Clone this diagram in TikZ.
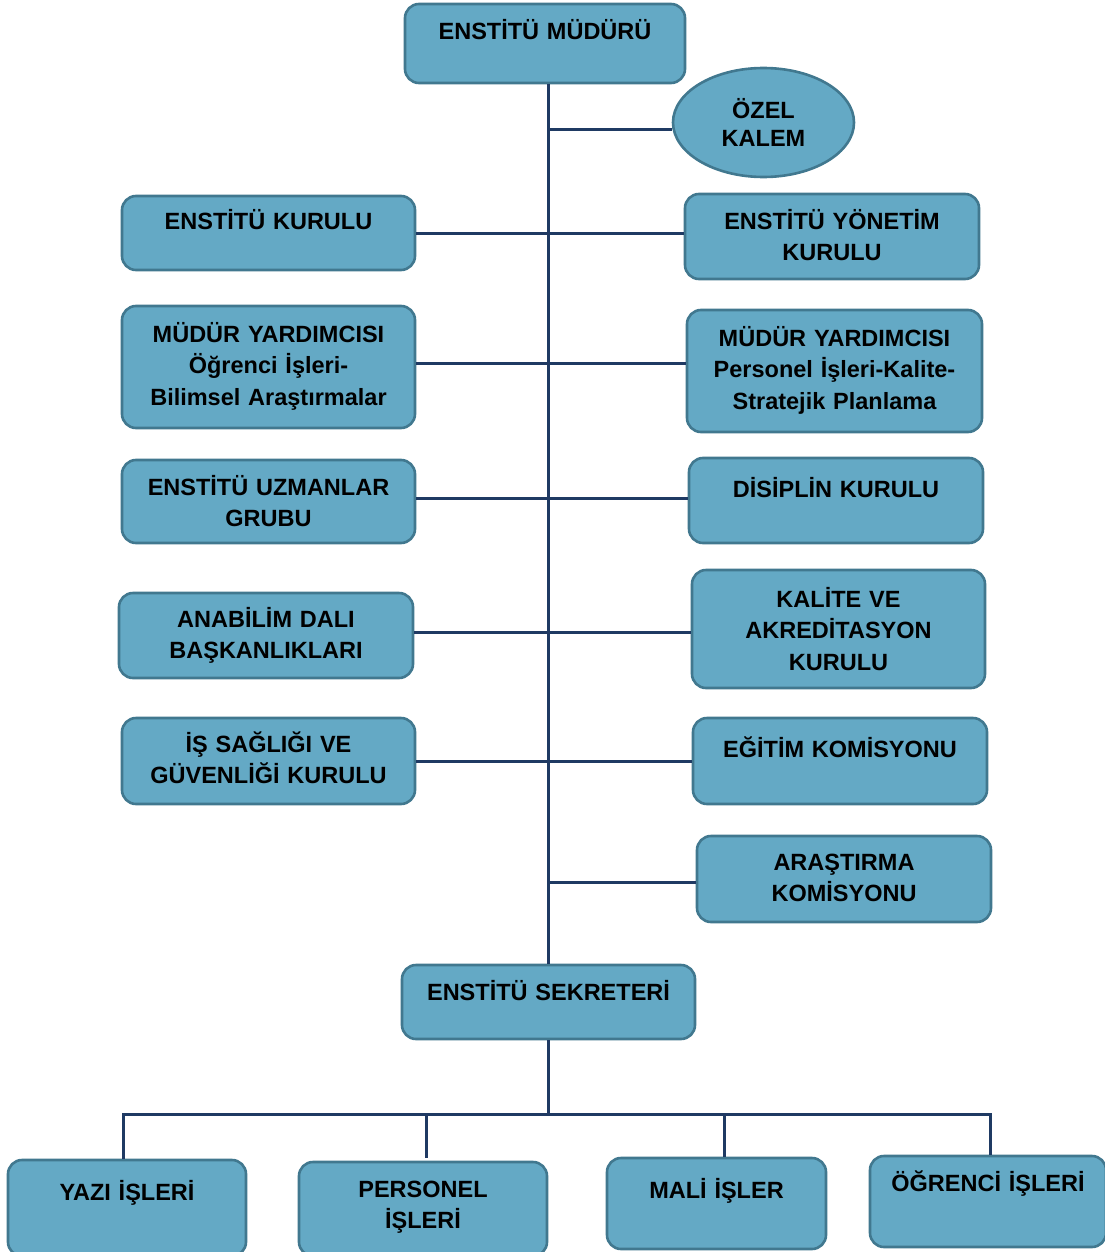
\documentclass[tikz,border=0pt]{standalone}
\usepackage{fontspec}
\setmainfont{Liberation Sans}
\usepackage{tikz}
\usetikzlibrary{positioning,shapes.geometric,calc}
\definecolor{boxfill}{HTML}{64A9C5}
\definecolor{boxline}{HTML}{41788F}
\definecolor{linkcol}{HTML}{1F3A63}
\tikzset{
  unit/.style={draw=boxline,line width=1.3pt,fill=boxfill,rounded corners=7pt,inner sep=0pt},
  lbl/.style={font=\bfseries\fontsize{11.75}{15.8}\selectfont,align=center,text width=135pt,inner sep=0pt,anchor=base},
  link/.style={draw=linkcol,line width=1.5pt}
}
\begin{document}
\begin{tikzpicture}[x=0.5pt,y=-0.5pt]
        \useasboundingbox (0,0) rectangle (1104,1252);
        % top
        \node[unit,minimum width=140pt,minimum height=39.5pt] (mudur) at (545,43.5) {};
        \node[lbl] (mudur-t) at ($(mudur.north)+(0,36.5)$) {ENSTİTÜ MÜDÜRÜ};
        \node[unit,ellipse,sharp corners,minimum width=90.5pt,minimum height=54.5pt] (ozel) at (763.5,122.5) {};
        \node[lbl,font=\bfseries\fontsize{11.75}{13.7}\selectfont] (ozel-t) at ($(ozel.north)+(0,52)$) {ÖZEL\\KALEM};
        % left column
        \node[unit,minimum width=146.5pt,minimum height=37pt] (kurul) at (268.5,233) {};
        \node[lbl] (kurul-t) at ($(kurul.north)+(0,34.5)$) {ENSTİTÜ KURULU};
        \node[unit,minimum width=146.5pt,minimum height=61pt] (myrd1) at (268.5,367) {};
        \node[lbl] (myrd1-t) at ($(myrd1.north)+(0,37.5)$) {MÜDÜR YARDIMCISI\\Öğrenci İşleri-\\Bilimsel Araştırmalar};
        \node[unit,minimum width=146.5pt,minimum height=41.5pt] (uzman) at (268.5,501.5) {};
        \node[lbl] (uzman-t) at ($(uzman.north)+(0,36.5)$) {ENSTİTÜ UZMANLAR\\GRUBU};
        \node[unit,minimum width=147pt,minimum height=42.5pt] (anabilim) at (266,635.5) {};
        \node[lbl] (anabilim-t) at ($(anabilim.north)+(0,35.5)$) {ANABİLİM DALI\\BAŞKANLIKLARI};
        \node[unit,minimum width=146.5pt,minimum height=43pt] (isg) at (268.5,761) {};
        \node[lbl] (isg-t) at ($(isg.north)+(0,35.5)$) {İŞ SAĞLIĞI VE\\GÜVENLİĞİ KURULU};
        % right column
        \node[unit,minimum width=147pt,minimum height=42.5pt] (yonetim) at (832,236.5) {};
        \node[lbl] (yonetim-t) at ($(yonetim.north)+(0,36.5)$) {ENSTİTÜ YÖNETİM\\KURULU};
        \node[unit,minimum width=147.5pt,minimum height=61pt] (myrd2) at (834.5,371) {};
        \node[lbl] (myrd2-t) at ($(myrd2.north)+(0,37.5)$) {MÜDÜR YARDIMCISI\\Personel İşleri-Kalite-\\Stratejik Planlama};
        \node[unit,minimum width=147pt,minimum height=42.5pt] (disiplin) at (836,500.5) {};
        \node[lbl] (disiplin-t) at ($(disiplin.north)+(0,40.5)$) {DİSİPLİN KURULU};
        \node[unit,minimum width=146.5pt,minimum height=59pt] (kalite) at (838.5,629) {};
        \node[lbl] (kalite-t) at ($(kalite.north)+(0,38.5)$) {KALİTE VE\\AKREDİTASYON\\KURULU};
        \node[unit,minimum width=147pt,minimum height=43pt] (egitim) at (840,761) {};
        \node[lbl] (egitim-t) at ($(egitim.north)+(0,40.5)$) {EĞİTİM KOMİSYONU};
        \node[unit,minimum width=147pt,minimum height=43pt] (arastirma) at (844,879) {};
        \node[lbl] (arastirma-t) at ($(arastirma.north)+(0,35.5)$) {ARAŞTIRMA\\KOMİSYONU};
        % secretary and offices
        \node[unit,minimum width=146.5pt,minimum height=37pt] (sekreter) at (548.5,1002) {};
        \node[lbl] (sekreter-t) at ($(sekreter.north)+(0,36.5)$) {ENSTİTÜ SEKRETERİ};
        \node[unit,minimum width=119pt,minimum height=48pt] (yazi) at (127,1208) {};
        \node[lbl] (yazi-t) at ($(yazi.north)+(0,41.5)$) {YAZI İŞLERİ};
        \node[unit,minimum width=124pt,minimum height=47pt] (personel) at (423,1209) {};
        \node[lbl] (personel-t) at ($(personel.north)+(0,36.5)$) {PERSONEL\\İŞLERİ};
        \node[unit,minimum width=109.5pt,minimum height=45.5pt] (mali) at (716.5,1203.5) {};
        \node[lbl] (mali-t) at ($(mali.north)+(0,41.5)$) {MALİ İŞLER};
        \node[unit,minimum width=118pt,minimum height=45.5pt] (ogrenci) at (988,1201.5) {};
        \node[lbl] (ogrenci-t) at ($(ogrenci.north)+(0,36.5)$) {ÖĞRENCİ İŞLERİ};
        \coordinate (bar) at ($(sekreter.south)+(0,74.5)$);
        % connectors
        \draw[link] (mudur.south -| sekreter.north)--(sekreter.north);
        \draw[link] ([yshift=-3.75pt]ozel.west)--([yshift=-3.75pt]ozel.west -| sekreter.north);
        \draw[link] (kurul.east)--(kurul.east -| yonetim.west);
        \draw[link] ([yshift=2pt]myrd1.east)--([yshift=2pt]myrd1.east -| myrd2.west);
        \draw[link] ([yshift=1.75pt]uzman.east)--([yshift=1.75pt]uzman.east -| disiplin.west);
        \draw[link] ([yshift=1.75pt]anabilim.east)--([yshift=1.75pt]anabilim.east -| kalite.west);
        \draw[link] (isg.east)--(isg.east -| egitim.west);
        \draw[link] ([yshift=-1.85pt]arastirma.west)--([yshift=-1.85pt]arastirma.west -| sekreter.north);
        \draw[link] (sekreter.south)--(bar);
        \draw[link] ([xshift=-2pt]yazi.north) |- ([xshift=1pt]ogrenci.north |- bar)--([xshift=1pt]ogrenci.north);
        \draw[link] ([xshift=1.5pt]personel.north |- bar)--([xshift=1.5pt,yshift=1.5pt]personel.north);
        \draw[link] ([xshift=3.75pt]mali.north |- bar)--([xshift=3.75pt]mali.north);
      \end{tikzpicture}
\end{document}
